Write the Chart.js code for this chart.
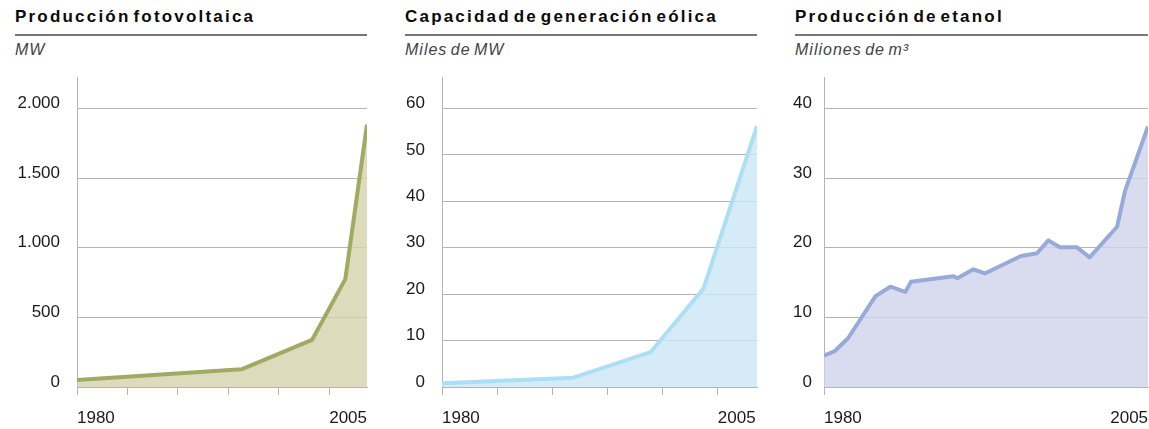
<!DOCTYPE html>
<html>
<head>
<meta charset="utf-8">
<script src="https://cdn.jsdelivr.net/npm/chart.js@4/dist/chart.umd.min.js"></script>
<style>
  html, body { margin: 0; padding: 0; background: #fff; }
  body { width: 1149px; height: 429px; position: relative; overflow: hidden;
         font-family: "Liberation Sans", Arial, sans-serif; }
  .title { position: absolute; top: 8px; font-size: 17px; line-height: 17px; font-weight: bold;
           color: #0a0a0a; letter-spacing: 2.2px; word-spacing: -4px; white-space: nowrap; }
  .rule { position: absolute; top: 34px; height: 2px; background: #777; }
  .unit { position: absolute; top: 42px; font-size: 16px; line-height: 16px; font-style: italic;
          color: #444; letter-spacing: 1px; word-spacing: -2px; white-space: nowrap; }
  canvas { position: absolute; top: 60px; }
</style>
</head>
<body>
<div class="title" style="left:15px">Producción fotovoltaica</div>
<div class="rule" style="left:15px;width:352px"></div>
<div class="unit" style="left:15px">MW</div>
<canvas id="c1" width="370" height="369" style="left:0px"></canvas>

<div class="title" style="left:405px">Capacidad de generación eólica</div>
<div class="rule" style="left:405px;width:352px"></div>
<div class="unit" style="left:405px">Miles de MW</div>
<canvas id="c2" width="380" height="369" style="left:380px"></canvas>

<div class="title" style="left:795px">Producción de etanol</div>
<div class="rule" style="left:795px;width:353px"></div>
<div class="unit" style="left:795px">Miliones de m³</div>
<canvas id="c3" width="379" height="369" style="left:770px"></canvas>

<script>
// values (x = year, y = value)
const pvYears   = [1980, 1996.3, 2003.3, 2006.6, 2008.75];
const pvValues  = [50, 127, 338, 775, 1885];
const pvTicks   = [0, 500, 1000, 1500, 2000];
const pvLabels  = ["0", "500", "1.000", "1.500", "2.000"];

const windYears  = [1980, 1991.9, 1998.9, 2003.7, 2008.55];
const windValues = [0.8, 2.0, 7.5, 21.2, 56.2];
const windTicks  = [0, 10, 20, 30, 40, 50, 60];
const windLabels = ["0", "10", "20", "30", "40", "50", "60"];

const ethYears  = [1980, 1980.9, 1982.1, 1984.5, 1985.8, 1987.1, 1987.6, 1991.3, 1991.65,
                   1993.05, 1994.05, 1997.2, 1998.6, 1999.6, 2000.6, 2002.1, 2003.2,
                   2005.6, 2006.3, 2008.3];
const ethValues = [4.5, 5.1, 7.0, 13.05, 14.4, 13.65, 15.1, 15.9, 15.6,
                   16.9, 16.3, 18.8, 19.2, 21.05, 20.05, 20.05, 18.6,
                   23.0, 28.2, 37.4];
const ethTicks  = [0, 10, 20, 30, 40];
const ethLabels = ["0", "10", "20", "30", "40"];

const yearTicks  = [1980, 1985, 1990, 1995, 2000, 2005];
const yearLabels = ["1980", "", "", "", "", "2005"];

const FONT = "'Liberation Sans', Arial, sans-serif";
const GRID = "#b4b4b4";

// chart.js reserves room for edge labels; the reference lets them sit inside
const noEdgePad = (s) => { s.paddingLeft = s.paddingRight = s.paddingTop = s.paddingBottom = 0; };

function panel(id, o) {
  const pts = o.xs.map((x, i) => ({ x, y: o.ys[i] }));
  new Chart(document.getElementById(id), {
    type: "line",
    data: { datasets: [{ data: pts, borderColor: o.line, backgroundColor: o.fill,
      borderWidth: 4, pointRadius: 0, tension: 0, fill: "origin", borderJoinStyle: "round" }] },
    options: {
      responsive: false, animation: false,
      layout: { padding: { top: 17, right: o.padRight, bottom: 0, left: 0 } },
      plugins: { legend: { display: false }, tooltip: { enabled: false } },
      scales: {
        x: {
          type: "linear", min: 1980, max: o.xMax, z: 1,
          afterBuildTicks: (s) => { s.ticks = yearTicks.map((v) => ({ value: v })); },
          afterFit: (s) => { s.height = 42; noEdgePad(s); },
          ticks: { align: "start", padding: 13, maxRotation: 0, autoSkip: false,
                   color: "#1a1a1a", font: { family: FONT, size: 17 },
                   callback: (v, i) => yearLabels[i] },
          grid: { drawOnChartArea: false, tickLength: 8,
                  color: (c) => (o.allTicks || c.index === 0 ? GRID : "rgba(0,0,0,0)") },
          border: { color: GRID },
        },
        y: {
          min: 0, max: o.yMax,
          afterBuildTicks: (s) => { s.ticks = o.ticks.map((v) => ({ value: v })); },
          afterFit: (s) => { s.width = o.axisW; noEdgePad(s); },
          ticks: { padding: o.labelPad, labelOffset: -5, color: "#1a1a1a",
                   font: { family: FONT, size: 17 }, callback: (v, i) => o.labels[i] },
          grid: { drawTicks: false, color: GRID },
          border: { color: GRID },
        },
      },
    },
  });
}

panel("c1", { xs: pvYears, ys: pvValues, ticks: pvTicks, labels: pvLabels, yMax: 2227,
  xMax: 2008.75, axisW: 77, labelPad: 17, padRight: 3, allTicks: true,
  line: "#a1aa62", fill: "rgba(211,211,172,0.8)" });
panel("c2", { xs: windYears, ys: windValues, ticks: windTicks, labels: windLabels, yMax: 66.8,
  xMax: 2008.55, axisW: 62, labelPad: 17, padRight: 3, allTicks: true,
  line: "#acdff3", fill: "rgba(203,231,246,0.8)" });
panel("c3", { xs: ethYears, ys: ethValues, ticks: ethTicks, labels: ethLabels, yMax: 44.5,
  xMax: 2008.3, axisW: 54, labelPad: 12, padRight: 1, allTicks: false,
  line: "#98abd8", fill: "rgba(208,211,235,0.8)" });
</script>
</body>
</html>
